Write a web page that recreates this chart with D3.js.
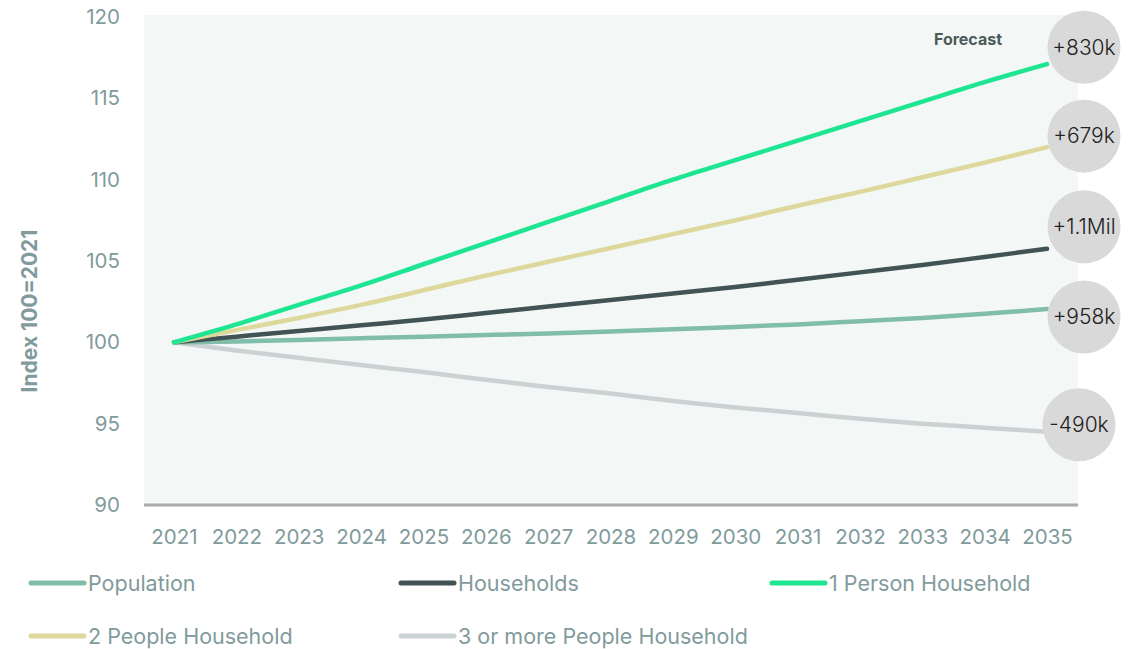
<!DOCTYPE html>
<html>
<head>
<meta charset="utf-8">
<script src="https://cdn.jsdelivr.net/npm/d3@7"></script>
<style>
  html, body { margin: 0; padding: 0; background: #ffffff; }
  svg { display: block; font-family: Inter, "Noto Sans", sans-serif; }
</style>
</head>
<body>
<svg id="chart" width="1145" height="649"></svg>
<script>
// Years on the x axis
const years = [2021, 2022, 2023, 2024, 2025, 2026, 2027, 2028, 2029, 2030, 2031, 2032, 2033, 2034, 2035];

// Index values (2021 = 100) per series
const population      = [100, 100.05, 100.15, 100.25, 100.35, 100.45, 100.55, 100.67, 100.8, 100.95, 101.1, 101.3, 101.5, 101.75, 102.05];
const households      = [100, 100.35, 100.7, 101.05, 101.4, 101.8, 102.2, 102.6, 103.0, 103.4, 103.85, 104.3, 104.75, 105.25, 105.75];
const onePerson       = [100, 101.1, 102.3, 103.5, 104.8, 106.1, 107.4, 108.7, 110.0, 111.2, 112.4, 113.6, 114.8, 116.0, 117.1];
const twoPeople       = [100, 100.75, 101.5, 102.3, 103.2, 104.1, 104.95, 105.8, 106.65, 107.5, 108.4, 109.25, 110.15, 111.05, 112.0];
const threePlus       = [100, 99.5, 99.05, 98.6, 98.17, 97.7, 97.25, 96.85, 96.4, 96.0, 95.65, 95.3, 95.0, 94.75, 94.5];

// Series names, legend order and change badges
const seriesNames  = ["Population", "Households", "1 Person Household", "2 People Household", "3 or more People Household"];
const seriesValues = [population, households, onePerson, twoPeople, threePlus];
const changeLabels = ["+958k", "+1.1Mil", "+830k", "+679k", "-490k"];

// Y axis ticks
const yTicks = [90, 95, 100, 105, 110, 115, 120];

// Styling
const colors = ["#80bdab", "#415354", "#1ee592", "#ddd89b", "#cbd2d4"];
const labelColor = "#819b9c";
// Badge offsets (px) from each series' final point, so the circles do not overlap
const badgeOffsets = [[37, 8], [37, -22], [37, -17], [37, -11], [32, -7]];
// Draw order: back to front
const drawOrder = [4, 0, 1, 3, 2];

const svg = d3.select("#chart");

const x = d3.scalePoint().domain(years).range([174, 1047]);
const y = d3.scaleLinear().domain([90, 120]).range([505, 17]);

// Plot background
svg.append("rect")
  .attr("x", 144).attr("y", 15)
  .attr("width", 1078 - 144).attr("height", 505 - 15)
  .attr("fill", "#f3f7f6");

// Baseline at 90
svg.append("line")
  .attr("x1", 144).attr("x2", 1078)
  .attr("y1", y(90)).attr("y2", y(90))
  .attr("stroke", "#a9a9a9").attr("stroke-width", 3);

// Y axis
const yAxis = d3.axisLeft(y).tickValues(yTicks).tickSize(0).tickPadding(0);
const yG = svg.append("g").attr("transform", "translate(120,0)").call(yAxis);
yG.select(".domain").remove();
yG.selectAll("text")
  .attr("font-size", 20.5).attr("fill", labelColor)
  .attr("font-family", "Inter, sans-serif").attr("dy", "0.32em");

// X axis
const xAxis = d3.axisBottom(x).tickSize(0).tickPadding(0);
const xG = svg.append("g").attr("transform", "translate(0,537)").call(xAxis);
xG.select(".domain").remove();
xG.selectAll("text")
  .attr("font-size", 20.5).attr("fill", labelColor)
  .attr("font-family", "Inter, sans-serif").attr("dy", "0.35em");

// Y axis title
svg.append("text")
  .attr("transform", "translate(37,311) rotate(-90)")
  .attr("text-anchor", "middle")
  .attr("font-size", 21).attr("font-weight", 700)
  .attr("fill", labelColor)
  .text("Index 100=2021");

// Forecast tag
svg.append("text")
  .attr("x", 968).attr("y", 45)
  .attr("text-anchor", "middle")
  .attr("font-size", 16).attr("font-weight", 700)
  .attr("fill", "#4b5b5c")
  .text("Forecast");

// Lines
const line = d3.line()
  .x((d, i) => x(years[i]))
  .y(d => y(d))
  .curve(d3.curveMonotoneX);

svg.append("g").selectAll("path")
  .data(drawOrder)
  .join("path")
  .attr("d", k => line(seriesValues[k]))
  .attr("fill", "none")
  .attr("stroke", k => colors[k])
  .attr("stroke-width", 4.5)
  .attr("stroke-linecap", "round")
  .attr("stroke-linejoin", "round");

// Change badges at line ends
const lastYear = years[years.length - 1];
const badges = svg.append("g").selectAll("g")
  .data(seriesValues.map((vals, k) => k))
  .join("g")
  .attr("transform", k => {
    const vals = seriesValues[k];
    const cx = x(lastYear) + badgeOffsets[k][0];
    const cy = y(vals[vals.length - 1]) + badgeOffsets[k][1];
    return `translate(${cx},${cy})`;
  });
badges.append("circle").attr("r", 36.5).attr("fill", "#d9d9d9");
badges.append("text")
  .attr("text-anchor", "middle").attr("dy", "0.35em")
  .attr("font-size", 21).attr("font-weight", 300).attr("fill", "#222222")
  .text(k => changeLabels[k]);

// Legend
const legendCols = [29, 399, 770];
const legendRows = [583, 636];
const legend = svg.append("g").selectAll("g")
  .data(seriesNames)
  .join("g")
  .attr("transform", (d, i) => `translate(${legendCols[i % 3]},${legendRows[Math.floor(i / 3)]})`);
legend.append("line")
  .attr("x1", 2).attr("x2", 55)
  .attr("stroke", (d, i) => colors[i])
  .attr("stroke-width", 5)
  .attr("stroke-linecap", "round");
legend.append("text")
  .attr("x", 59).attr("dy", "0.35em")
  .attr("font-size", 21.5).attr("fill", labelColor)
  .text(d => d);
</script>
</body>
</html>
